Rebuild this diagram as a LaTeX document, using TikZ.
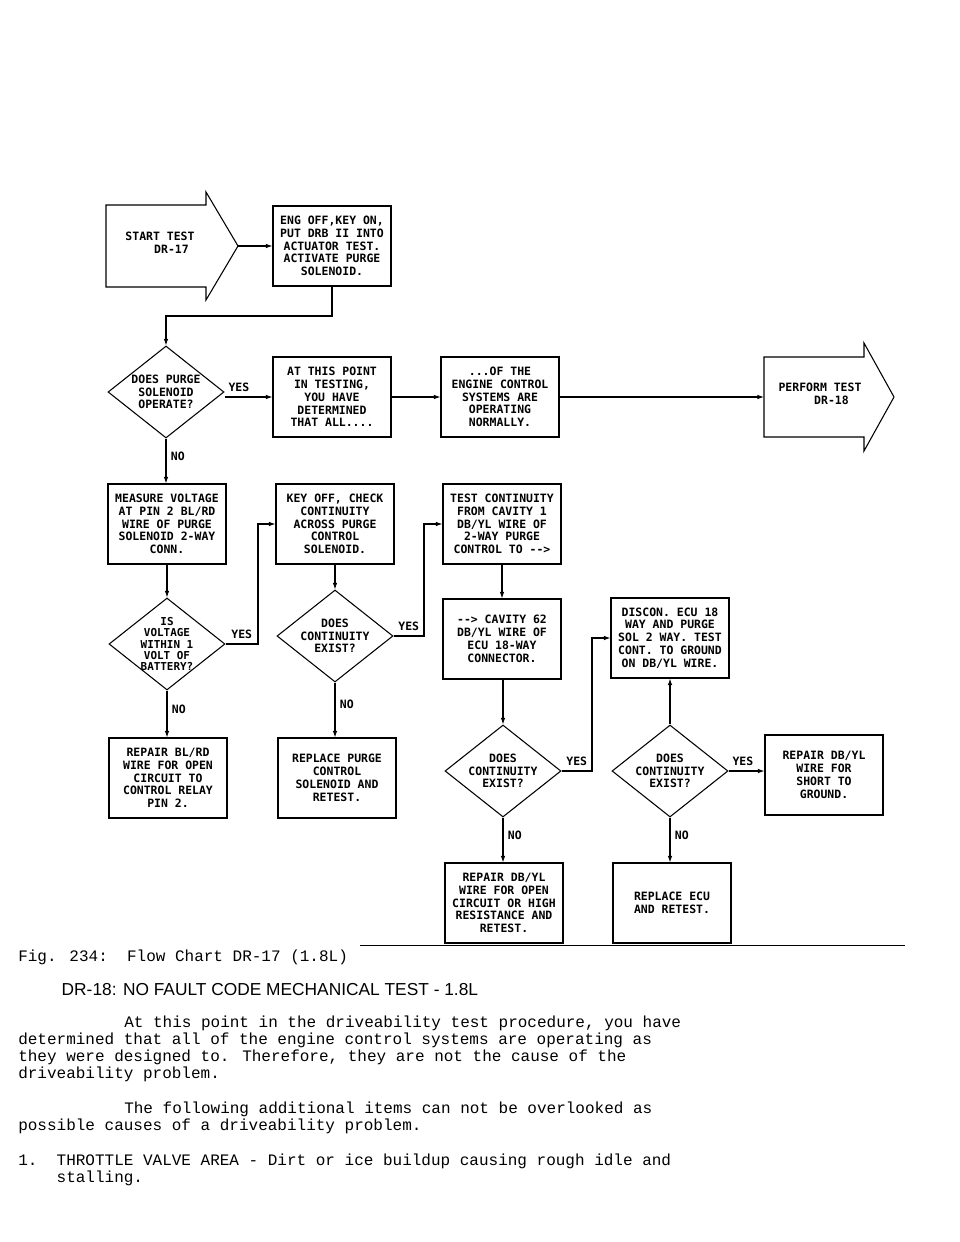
\documentclass[tikz,border=0pt]{standalone}
\usepackage{fontspec}
\setmainfont{Liberation Mono}
\newfontfamily\chartfont{DejaVu Sans Mono}
\newfontfamily\headfont{Liberation Sans}
\usetikzlibrary{positioning}
\usetikzlibrary{shapes.geometric}
\usetikzlibrary {arrows.meta}

\begin{document}
\begin{tikzpicture}[x=0.75pt,y=-0.75pt]

\def\boxfont{\chartfont\bfseries\fontsize{8.6}{9.6}\selectfont}
\tikzset{
  stepbox/.style={draw,thick,minimum width=88.5pt,minimum height=60pt,inner sep=1pt,align=center,font=\boxfont},
  choice/.style={draw,thick,diamond,minimum width=87pt,minimum height=69pt,inner sep=-6pt,align=center,font=\boxfont},
  flow/.style={thick,-{Latex[length=5pt,width=3.5pt]}},
  tag/.style={font=\boxfont}
}

\useasboundingbox (0,0) rectangle (960,1242);

% start and end arrows
\draw[thick] (106,205) -- (206,205) -- (206,192) -- (238,246) -- (206,300) -- (206,287) -- (106,287) -- cycle;
\node[font=\boxfont,align=center] (start) at (160,243) {START TEST\\\hspace*{2em}DR-17};
\coordinate (starttip) at (238,246);
\draw[thick] (764,357) -- (864,357) -- (864,343) -- (894,397) -- (864,451) -- (864,437) -- (764,437) -- cycle;
\node[font=\boxfont,align=center] (perform) at (820,394) {PERFORM TEST\\\hspace*{2em}DR-18};
\coordinate (performin) at (764,397);

% boxes
\node[stepbox] (B1) at (332,246) {ENG OFF,KEY ON,\\PUT DRB II INTO\\ACTUATOR TEST.\\ACTIVATE PURGE\\SOLENOID.};
\node[stepbox] (B2) at (332,397) {AT THIS POINT\\IN TESTING,\\YOU HAVE\\DETERMINED\\THAT ALL....};
\node[stepbox] (B3) at (500,397) {...OF THE\\ENGINE CONTROL\\SYSTEMS ARE\\OPERATING\\NORMALLY.};
\node[stepbox] (B4) at (167,524) {MEASURE VOLTAGE\\AT PIN 2 BL/RD\\WIRE OF PURGE\\SOLENOID 2-WAY\\CONN.};
\node[stepbox] (B5) at (335,524) {KEY OFF, CHECK\\CONTINUITY\\ACROSS PURGE\\CONTROL\\SOLENOID.};
\node[stepbox] (B7) at (502,524) {TEST CONTINUITY\\FROM CAVITY 1\\DB/YL WIRE OF\\2-WAY PURGE\\CONTROL TO -->};
\node[stepbox] (B9) at (502,639) {--> CAVITY 62\\DB/YL WIRE OF\\ECU 18-WAY\\CONNECTOR.};
\node[stepbox] (B10) at (670,638) {DISCON. ECU 18\\WAY AND PURGE\\SOL 2 WAY. TEST\\CONT. TO GROUND\\ON DB/YL WIRE.};
\node[stepbox] (B6) at (168,778) {REPAIR BL/RD\\WIRE FOR OPEN\\CIRCUIT TO\\CONTROL RELAY\\PIN 2.};
\node[stepbox] (B8) at (337,778) {REPLACE PURGE\\CONTROL\\SOLENOID AND\\RETEST.};
\node[stepbox] (B12) at (824,775) {REPAIR DB/YL\\WIRE FOR\\SHORT TO\\GROUND.};
\node[stepbox] (B11) at (504,903) {REPAIR DB/YL\\WIRE FOR OPEN\\CIRCUIT OR HIGH\\RESISTANCE AND\\RETEST.};
\node[stepbox] (B13) at (672,903) {REPLACE ECU\\AND RETEST.};

% decisions
\node[choice] (D1) at (166,392) {DOES PURGE\\SOLENOID\\OPERATE?};
\node[choice,font=\chartfont\bfseries\fontsize{8.2}{8.6}\selectfont] (D2) at (167,644) {IS\\VOLTAGE\\WITHIN 1\\VOLT OF\\BATTERY?};
\node[choice] (D3) at (335,636) {DOES\\CONTINUITY\\EXIST?};
\node[choice] (D4) at (503,771) {DOES\\CONTINUITY\\EXIST?};
\node[choice] (D5) at (670,771) {DOES\\CONTINUITY\\EXIST?};

% connectors
\draw[flow] (starttip) -- (B1.west |- starttip);
\draw[flow] (B1.south) |- (166,316) -- (D1.north);
\draw[flow] (D1.east |- B2.west) -- node[tag,above,pos=.3] {YES} (B2.west);
\draw[flow] (B2.east) -- (B3.west);
\draw[flow] (B3.east) -- (performin);
\draw[flow] (D1.south) -- node[tag,right,pos=.4] {NO} (B4.north -| D1.south);
\draw[flow] (B4.south -| D2.north) -- (D2.north);
\draw[flow] (D2.east) -- node[tag,above,pos=.5] {YES} (258,644) |- (B5.west);
\draw[flow] (D2.south) -- node[tag,right,pos=.4] {NO} (B6.north -| D2.south);
\draw[flow] (B5.south) -- (D3.north);
\draw[flow] (D3.east) -- node[tag,above,pos=.5] {YES} (424,636) |- (B7.west);
\draw[flow] (D3.south) -- node[tag,right,pos=.4] {NO} (B8.north -| D3.south);
\draw[flow] (B7.south) -- (B9.north);
\draw[flow] (B9.south -| D4.north) -- (D4.north);
\draw[flow] (D4.east) -- node[tag,above,pos=.5] {YES} (592,771) |- (B10.west);
\draw[flow] (D4.south) -- node[tag,right,pos=.4] {NO} (B11.north -| D4.south);
\draw[flow] (D5.north) -- (B10.south -| D5.north);
\draw[flow] (D5.east) -- node[tag,above,pos=.4] {YES} (B12.west |- D5.east);
\draw[flow] (D5.south) -- node[tag,right,pos=.4] {NO} (B13.north -| D5.south);

% caption and text
\draw (360,945) -- (905,945);
\node[anchor=base west,inner sep=0pt,font=\fontsize{12}{12.75}\selectfont] (cap) at (18,961) {Fig. 234:\ \ Flow Chart DR-17 (1.8L)};
\node[anchor=base west,font=\headfont\fontsize{13}{14}\selectfont] (head) at (57,995) {DR-18: NO FAULT CODE MECHANICAL TEST - 1.8L};
\node[anchor=north west,align=left,inner sep=0pt,font=\fontsize{12}{12.75}\selectfont] (para1) at (18,1016)
  {\hspace*{79.5pt}At this point in the driveability test procedure, you have\\
   determined that all of the engine control systems are operating as\\
   they were designed to. Therefore, they are not the cause of the\\
   driveability problem.};
\node[anchor=north west,align=left,inner sep=0pt,font=\fontsize{12}{12.75}\selectfont] (para2) at (18,1102)
  {\hspace*{79.5pt}The following additional items can not be overlooked as\\
   possible causes of a driveability problem.};
\node[anchor=north west,align=left,inner sep=0pt,font=\fontsize{12}{12.75}\selectfont] (item1) at (18,1154)
  {1.\ \ THROTTLE VALVE AREA - Dirt or ice buildup causing rough idle and\\
   \hspace*{28.8pt}stalling.};
\end{tikzpicture}
\end{document}
